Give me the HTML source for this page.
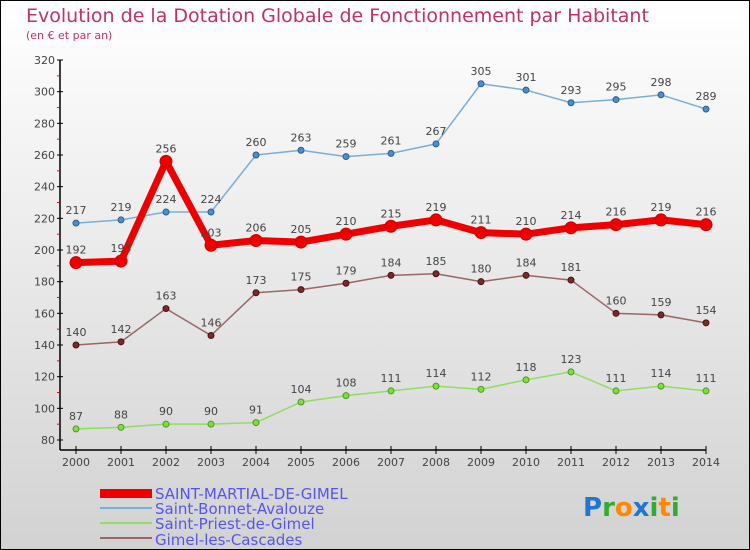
<!DOCTYPE html>
<html><head><meta charset="utf-8"><style>
body{margin:0;}
#c{width:750px;height:550px;position:relative;overflow:hidden;}
text{font-family:"DejaVu Sans","Liberation Sans",sans-serif;}
</style></head><body>
<div id="c">
<svg id="s" width="750" height="550" xmlns="http://www.w3.org/2000/svg">
<defs><linearGradient id="bg" x1="0" y1="0" x2="0" y2="1"><stop offset="0" stop-color="#ffffff"/><stop offset="1" stop-color="#d2d2d2"/></linearGradient></defs>
<rect x="0.5" y="0.5" width="749" height="549" fill="url(#bg)" stroke="#000"/>
<text x="26" y="22" font-size="19" fill="#c0306a">Evolution de la Dotation Globale de Fonctionnement par Habitant</text>
<text x="26" y="39" font-size="11" fill="#c0306a">(en € et par an)</text>
<g id="axes"></g><g id="series"></g>
<g>
<rect x="100" y="489" width="52" height="9" fill="#e00"/>
<text x="155" y="499" font-size="15" fill="#5555ee">SAINT-MARTIAL-DE-GIMEL</text>
<line x1="100" y1="508" x2="152" y2="508" stroke="#7aaed6" stroke-width="2"/>
<text x="155" y="514" font-size="15" fill="#5555ee">Saint-Bonnet-Avalouze</text>
<line x1="100" y1="523" x2="152" y2="523" stroke="#90dd60" stroke-width="2"/>
<text x="155" y="529" font-size="15" fill="#5555ee">Saint-Priest-de-Gimel</text>
<line x1="100" y1="538" x2="152" y2="538" stroke="#996666" stroke-width="2"/>
<text x="155" y="545" font-size="15" fill="#5555ee">Gimel-les-Cascades</text>
</g>
<text x="583" y="516" font-size="26" font-weight="bold"><tspan fill="#2277cc">P</tspan><tspan fill="#33aa33">r</tspan><tspan fill="#ff8800">o</tspan><tspan fill="#2277cc">x</tspan><tspan fill="#33aa33">i</tspan><tspan fill="#ff8800">t</tspan><tspan fill="#33aa33">i</tspan></text>
</svg>
</div>
<script>
const years=[2000,2001,2002,2003,2004,2005,2006,2007,2008,2009,2010,2011,2012,2013,2014];
const yTicks=[80,100,120,140,160,180,200,220,240,260,280,300,320];
const smg=[192,193,256,203,206,205,210,215,219,211,210,214,216,219,216];
const sba=[217,219,224,224,260,263,259,261,267,305,301,293,295,298,289];
const spg=[87,88,90,90,91,104,108,111,114,112,118,123,111,114,111];
const glc=[140,142,163,146,173,175,179,184,185,180,184,181,160,159,154];
const NS="http://www.w3.org/2000/svg";
const X=i=>76+i*45;
const Y=v=>440-(v-80)*(380/240);
function el(t,a,p){const e=document.createElementNS(NS,t);for(const k in a)e.setAttribute(k,a[k]);p.appendChild(e);return e;}
const ax=document.getElementById('axes');
const yl=el('line',{x1:60,y1:60,x2:60,y2:450,stroke:'#000','stroke-width':1.5},ax);


const xl=el('line',{x1:60,y1:450,x2:706,y2:450,stroke:'#000','stroke-width':1.5},ax);


yTicks.forEach(v=>{
 el('line',{x1:57,y1:Y(v),x2:63,y2:Y(v),stroke:'#000'},ax);
 if(v<320) el('line',{x1:57,y1:Y(v+10),x2:60,y2:Y(v+10),stroke:'#e00'},ax);
 const t=el('text',{x:55,y:Y(v)+4,'font-size':11,fill:'#444','text-anchor':'end'},ax);t.textContent=v;
 
 
});
years.forEach((yr,i)=>{
 el('line',{x1:X(i),y1:446,x2:X(i),y2:454,stroke:'#000'},ax);
 const t=el('text',{x:X(i),y:466,'font-size':11,fill:'#444','text-anchor':'middle'},ax);t.textContent=yr;
 
 
});
const sg=document.getElementById('series');
function series(data,name,col,w,r,dot,dotStroke){
 const g=el('g',{},sg);
 
 
 el('polyline',{points:data.map((v,i)=>X(i)+','+Y(v)).join(' '),fill:'none',stroke:col,'stroke-width':w,'stroke-linejoin':'round'},g);
 data.forEach((v,i)=>{
  const c=el('circle',{cx:X(i),cy:Y(v),r:r,fill:dot,stroke:dotStroke,'stroke-width':1},g);
  
  
  const t=el('text',{x:X(i),y:Y(v)-9,'font-size':11,fill:'#444','text-anchor':'middle'},g);t.textContent=v;
  
  
 });
}
series(sba,'saint-bonnet-series','#7aaed6',1.5,3,'#4a8ed0','#2a5e90');
series(spg,'saint-priest-series','#90dd60',1.5,3,'#80dd40','#4a9a20');
series(glc,'gimel-series','#996666',1.5,3,'#7a2a2a','#4a1010');
series(smg,'saint-martial-series','#ee0000',7,6,'#ee0000','#cc0000');
</script>
</body></html>
